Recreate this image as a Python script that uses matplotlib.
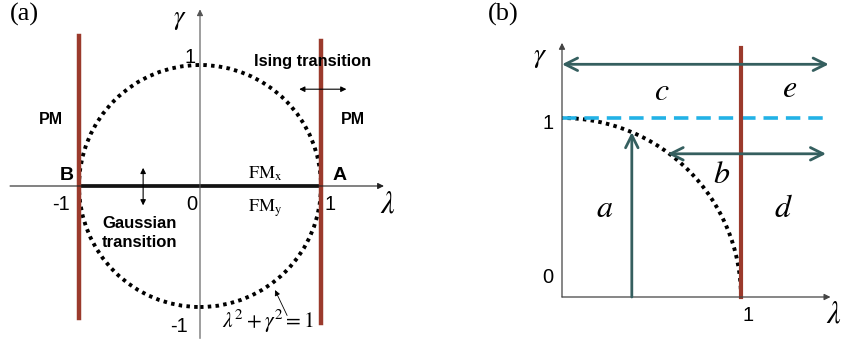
import matplotlib.pyplot as plt
from matplotlib.patches import Circle, Arc

plt.rcParams['mathtext.fontset'] = 'stix'
plt.rcParams['font.family'] = ['Liberation Sans', 'DejaVu Sans']

# phase-boundary data (lambda, gamma units)
ising_lines = [-1.0, 1.0]          # lambda = +/-1 Ising critical lines
ising_span = [(-1.09, 1.24), (-1.13, 1.20)]
gaussian_segment = [-1.0, 1.0]     # gamma = 0, |lambda| < 1
circle_radius = 1.0                # lambda^2 + gamma^2 = 1
ticks_a = [(-1, '-1'), (0, '0'), (1, '1')]

# panel (b) paths
path_a_lambda = 0.39
path_b_gamma, path_b_start, path_b_end = 0.80, 0.59, 1.475
path_c_gamma, path_c_start, path_c_end = 1.30, 0.0, 1.49
region_labels = {'a': (0.24, 0.49), 'b': (0.89, 0.68), 'c': (0.56, 1.145),
                 'd': (1.235, 0.49), 'e': (1.27, 1.16)}

RED = '#9b3a2c'
TEAL = '#355f5f'
BLUE = '#22b2e6'
DOTS = (0, (0.9, 1.1))

fig = plt.figure(figsize=(8.42, 3.46), dpi=100)
W, H = 842, 346

'''
panel (a): origin at pixel (200,186), 121 px per unit
'''
u, ox, oy = 121.0, 200.0, 186.0
ax = fig.add_axes([0, 0, 420 / W, 1])
ax.set_xlim(-ox / u, (420 - ox) / u)
ax.set_ylim(-(H - oy) / u, oy / u)
ax.axis('off')

ax.annotate('', xy=(1.52, 0), xytext=(-1.57, 0),
            arrowprops=dict(arrowstyle='-|>', lw=0.8, color='#222222', mutation_scale=9, shrinkA=0, shrinkB=0))
ax.annotate('', xy=(0, 1.46), xytext=(0, -1.26),
            arrowprops=dict(arrowstyle='-|>', lw=0.8, color='#555555', mutation_scale=9, shrinkA=0, shrinkB=0))

ax.add_patch(Circle((0, 0), circle_radius, fill=False, ls=DOTS, lw=2.8, color='black'))
ax.plot(gaussian_segment, [0, 0], color='black', lw=2.6, solid_capstyle='butt')
for x, (y0, y1) in zip(ising_lines, ising_span):
    ax.plot([x, x], [y0, y1], color=RED, lw=3.2)

ax.annotate('', xy=(1.21, 0.80), xytext=(0.82, 0.80),
            arrowprops=dict(arrowstyle='<|-|>', lw=0.8, color='black', mutation_scale=8, shrinkA=0, shrinkB=0))
ax.annotate('', xy=(-0.47, 0.15), xytext=(-0.47, -0.16),
            arrowprops=dict(arrowstyle='<|-|>', lw=0.8, color='black', mutation_scale=8, shrinkA=0, shrinkB=0))
ax.annotate('', xy=(0.62, -0.86), xytext=(0.72, -1.07),
            arrowprops=dict(arrowstyle='-|>', lw=0.6, color='black', mutation_scale=8, shrinkA=0, shrinkB=0))

for x, lab in ticks_a:
    dx = {-1: -0.15, 0: -0.07, 1: 0.075}[x]
    ax.text(x + dx, -0.15, lab, fontsize=14.5, ha='center', va='center')
ax.text(-0.08, 1.06, '1', fontsize=14.5, ha='center', va='center')
ax.text(-0.17, -1.16, '-1', fontsize=14.5, ha='center', va='center')
ax.text(1.55, -0.15, r'$\lambda$', fontsize=22, ha='center', va='center')
ax.text(-0.165, 1.37, r'$\gamma$', fontsize=19, ha='center', va='center')
ax.text(-1.10, 0.09, 'B', fontsize=14, weight='bold', ha='center', va='center')
ax.text(1.15, 0.09, 'A', fontsize=14, weight='bold', ha='center', va='center')
ax.text(-1.23, 0.55, 'PM', fontsize=11.5, weight='bold', ha='center', va='center')
ax.text(1.26, 0.55, 'PM', fontsize=11.5, weight='bold', ha='center', va='center')
ax.text(0.93, 1.03, 'Ising transition', fontsize=11.8, weight='bold', ha='center', va='center')
ax.text(-0.50, -0.39, 'Gaussian\ntransition', fontsize=12, weight='bold', ha='center', va='center',
        linespacing=1.3)
ax.text(0.54, 0.10, r'$\mathrm{FM}_\mathrm{x}$', fontsize=13, ha='center', va='center')
ax.text(0.54, -0.18, r'$\mathrm{FM}_\mathrm{y}$', fontsize=13, ha='center', va='center')
ax.text(0.56, -1.12, r'$\lambda^2+\gamma^2=1$', fontsize=15.5, ha='center', va='center')
ax.text(-1.45, 1.42, '(a)', fontsize=19, family='Liberation Serif', ha='center', va='center')

'''
panel (b): origin at pixel (562,297), 179 px per unit
'''
u, ox, oy = 179.0, 142.0, 297.0
bx = fig.add_axes([420 / W, 0, 422 / W, 1])
bx.set_xlim(-ox / u, (422 - ox) / u)
bx.set_ylim(-(H - oy) / u, oy / u)
bx.axis('off')

bx.annotate('', xy=(1.50, 0), xytext=(0, 0),
            arrowprops=dict(arrowstyle='-|>', lw=0.9, color='#444444', mutation_scale=9, shrinkA=0, shrinkB=0))
bx.annotate('', xy=(0, 1.42), xytext=(0, 0),
            arrowprops=dict(arrowstyle='-|>', lw=0.9, color='#444444', mutation_scale=9, shrinkA=0, shrinkB=0))

bx.plot([0, 1.475], [1, 1], color=BLUE, lw=2.6, dashes=(4, 2.2))
bx.add_patch(Arc((0, 0), 2 * circle_radius, 2 * circle_radius, theta1=0, theta2=90,
                 ls=DOTS, lw=2.8, color='black'))
bx.plot([1, 1], [0, 1.39], color=RED, lw=3.0)

arrow_kw = dict(lw=2.0, color=TEAL, shrinkA=0, shrinkB=0)
head = '<->,head_length=0.9,head_width=0.45'
bx.annotate('', xy=(path_c_end, path_c_gamma), xytext=(path_c_start, path_c_gamma),
            arrowprops=dict(arrowstyle=head, **arrow_kw))
bx.annotate('', xy=(path_b_end, path_b_gamma), xytext=(path_b_start, path_b_gamma),
            arrowprops=dict(arrowstyle=head, **arrow_kw))
bx.annotate('', xy=(path_a_lambda, (circle_radius**2 - path_a_lambda**2) ** 0.5), xytext=(path_a_lambda, 0),
            arrowprops=dict(arrowstyle='->,head_length=0.9,head_width=0.45', **arrow_kw))

for k, (x, y) in region_labels.items():
    bx.text(x, y, '$' + k + '$', fontsize=23, ha='center', va='center')

bx.text(-0.08, 0.97, '1', fontsize=14.5, ha='center', va='center')
bx.text(-0.08, 0.11, '0', fontsize=14.5, ha='center', va='center')
bx.text(1.04, -0.105, '1', fontsize=14.5, ha='center', va='center')
bx.text(1.52, -0.10, r'$\lambda$', fontsize=22, ha='center', va='center')
bx.text(-0.12, 1.34, r'$\gamma$', fontsize=20, ha='center', va='center')
bx.text(-0.33, 1.58, '(b)', fontsize=19, family='Liberation Serif', ha='center', va='center')

fig.savefig('out.png', dpi=100)
